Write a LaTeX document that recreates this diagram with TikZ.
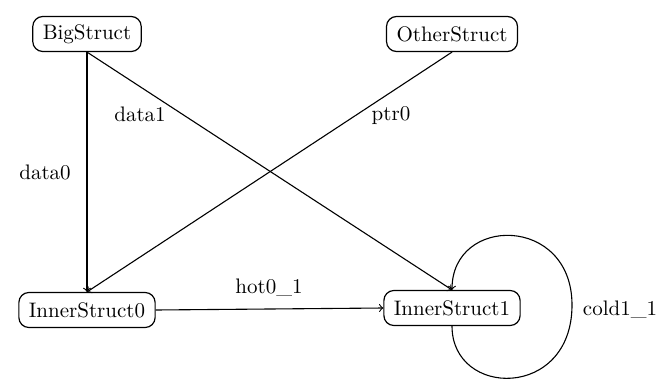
\documentclass[tikz,border=0pt]{standalone}
\usepackage{amsmath}
\usepackage{tikz}

\tikzset{
  structbox/.style={draw, rounded corners=5pt, line width=0.6pt, inner xsep=5pt, inner ysep=3pt, minimum height=17.5pt},
  edgelabel/.style={inner sep=0.75pt},
  ptrarrow/.style={->, line width=0.55pt},
}

\begin{document}
\begin{tikzpicture}[x=0.5pt,y=-0.5pt,font=\fontsize{10.5}{12}\selectfont]
\useasboundingbox (0,0) rectangle (672,379);

%Structs
\node [structbox] (big) at (87,34) {BigStruct};
\node [structbox] (other) at (452,34) {OtherStruct};
\node [structbox] (inner0) at (87,310) {InnerStruct0};
\node [structbox] (inner1) at (452,308) {InnerStruct1};

%Pointers
\draw [ptrarrow] (big.south) -- (inner0.north);
\draw [ptrarrow] (big.south) -- (inner1.north);
\draw [ptrarrow] (other.south) -- (inner0.north);
\draw [ptrarrow] (inner0.east) -- (inner1.west);
%self loop on InnerStruct1
\draw [ptrarrow] (inner1.south) .. controls (452,398) and (572,400) .. (572,305) .. controls (572,215) and (452,215) .. (inner1.north);

% Text Node
\node [edgelabel] (lbldata0) at (45,172) {data0};
% Text Node
\node [edgelabel] (lbldata1) at (140,114) {data1};
% Text Node
\node [edgelabel] (lblptr0) at (391,116) {ptr0};
% Text Node
\node [edgelabel] (lblhot) at (269,288) {hot0\_1};
% Text Node
\node [edgelabel] (lblcold) at (620,310) {cold1\_1};

\end{tikzpicture}
\end{document}
